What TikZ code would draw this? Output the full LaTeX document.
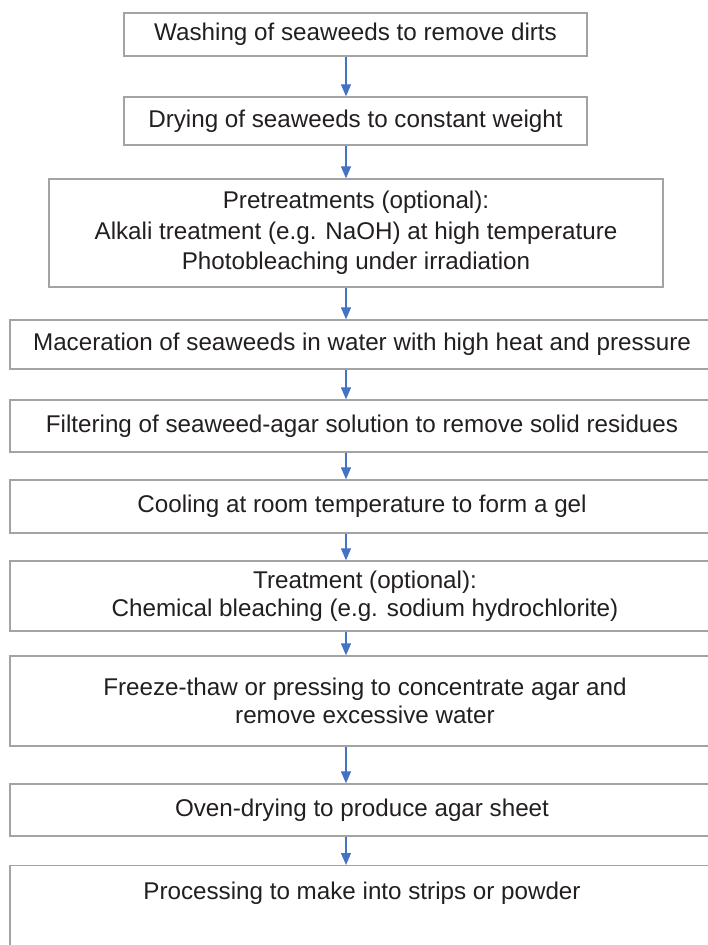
\documentclass[tikz,border=0pt]{standalone}
\usepackage{fontspec}
\setmainfont{Liberation Sans}
\usetikzlibrary{arrows.meta}
\definecolor{boxline}{HTML}{A3A3A3}
\definecolor{inkgray}{HTML}{231F20}
\definecolor{flowblue}{HTML}{4472C4}
\tikzset{
  stepbox/.style={draw=boxline, line width=1.3pt, fill=white, text=inkgray,
    inner xsep=6pt, inner ysep=0pt, align=center,
    font=\fontsize{24.2}{28.5}\selectfont},
  flowarrow/.style={draw=flowblue, line width=1.2pt,
    -{Triangle[width=10pt,length=12pt]}}
}
\begin{document}
\begin{tikzpicture}[x=1pt,y=1pt]
\useasboundingbox (0,0) rectangle (707,-945);
% process steps, top to bottom
\node[stepbox, minimum width=463, minimum height=43] (n1) at (355.5,-34.5)
  {Washing of seaweeds to remove dirts};
\node[stepbox, minimum width=463, minimum height=48] (n2) at (355.5,-121)
  {Drying of seaweeds to constant weight};
\node[stepbox, minimum width=614, minimum height=108, font=\fontsize{24.2}{30.5}\selectfont] (n3) at (356,-233)
  {Pretreatments (optional):\\Alkali treatment (e.g. NaOH) at high temperature\\Photobleaching under irradiation};
\node[stepbox, minimum width=710, minimum height=49] (n4) at (365,-344.5)
  {\hspace*{-6pt}Maceration of seaweeds in water with high heat and pressure};
\node[stepbox, minimum width=710, minimum height=52] (n5) at (365,-426)
  {\hspace*{-6pt}Filtering of seaweed-agar solution to remove solid residues};
\node[stepbox, minimum width=710, minimum height=53] (n6) at (365,-506.5)
  {\hspace*{-6pt}Cooling at room temperature to form a gel};
\node[stepbox, minimum width=710, minimum height=70] (n7) at (365,-596)
  {Treatment (optional):\\Chemical bleaching (e.g. sodium hydrochlorite)};
\node[stepbox, minimum width=710, minimum height=90] (n8) at (365,-701)
  {Freeze-thaw or pressing to concentrate agar and\\remove excessive water};
\node[stepbox, minimum width=710, minimum height=52] (n9) at (365,-810)
  {\hspace*{-6pt}Oven-drying to produce agar sheet};
\node[stepbox, minimum width=710, anchor=north, inner ysep=16pt,
  text height=18pt, text depth=100pt] (n10) at (365,-865)
  {\hspace*{-6pt}Processing to make into strips or powder};
% connectors share one vertical axis
\coordinate (ax) at (346,0);
\foreach \a/\b in {n1/n2,n2/n3,n3/n4,n4/n5,n5/n6,n6/n7,n7/n8,n8/n9,n9/n10}
  \draw[flowarrow] (\a.south -| ax) -- (\b.north -| ax);
\end{tikzpicture}
\end{document}
